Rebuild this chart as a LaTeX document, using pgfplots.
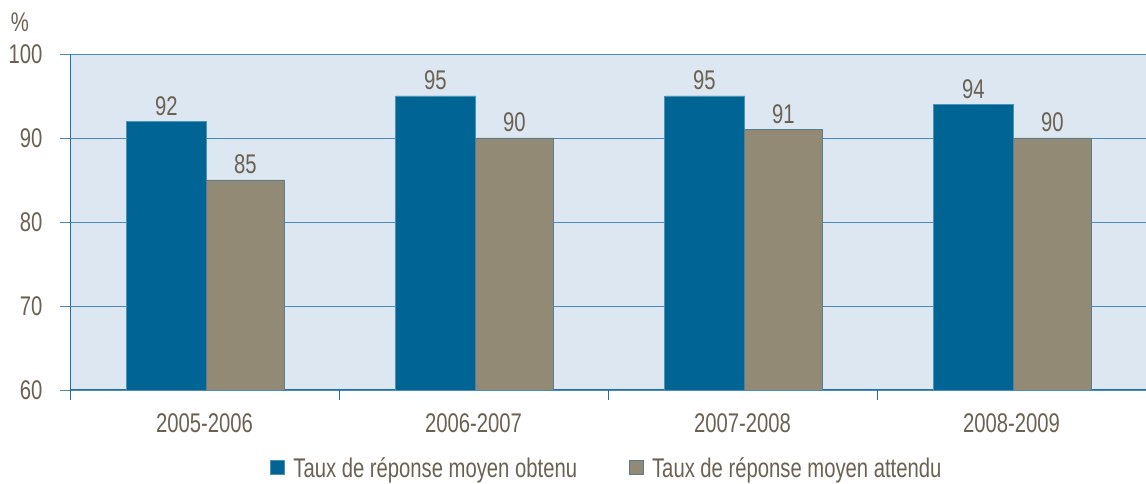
\documentclass[border=0pt]{standalone}
\usepackage{fontspec}
\setmainfont{Liberation Sans}[FakeStretch=0.75]
\usepackage{pgfplots}
\pgfplotsset{compat=1.18}

\definecolor{barblue}{HTML}{006494}
\definecolor{bargray}{HTML}{938A76}
\definecolor{bgblue}{HTML}{DCE7F1}
\definecolor{axblue}{HTML}{1F6FA8}
\definecolor{gridblue}{HTML}{4A8CC0}
\definecolor{txt}{HTML}{6B6152}
\newcommand{\lab}{\fontsize{27}{31}\selectfont\color{txt}}

\begin{document}
\begin{tikzpicture}[x=1pt,y=1pt]
\begin{axis}[
  at={(70pt,94pt)}, anchor=south west,
  scale only axis,
  width=1076pt, height=336pt,
  xmin=-0.5, xmax=3.5,
  ymin=60, ymax=100,
  ybar=0pt, bar width=80pt,
  axis background/.style={fill=bgblue},
  axis x line*=bottom, axis y line*=left,
  axis line style={draw=axblue, line width=1pt, -},
  ytick={60,70,80,90,100},
  ymajorgrids,
  major grid style={draw=gridblue, line width=0.9pt},
  ytick style={draw=gridblue, line width=0.9pt},
  tick align=outside,
  major tick length=10pt,
  yticklabel style={font=\lab, xshift=-14pt},
  /pgf/number format/assume math mode=true,
  xtick={0,1,2,3},
  xticklabels={2005-2006,2006-2007,2007-2008,2008-2009},
  xticklabel style={font=\lab, yshift=-10pt},
  x tick style={draw=none},
  extra x ticks={-0.5,0.5,1.5,2.5},
  extra x tick labels={},
  extra x tick style={x tick style={draw=axblue, line width=1pt}},
  nodes near coords,
  every node near coord/.append style={font=\lab, yshift=2pt},
  legend style={at={(rel axis cs:0.499,0)}, yshift=-78pt, anchor=center,
    draw=none, fill=none, font=\lab, legend columns=2,
    /tikz/every odd column/.append style={column sep=6pt},
    /tikz/every even column/.append style={column sep=50pt}},
  legend image code/.code={\draw[#1, line width=1pt] (0pt,-7pt) rectangle (14pt,7pt);},
]
\addplot[fill=barblue, draw=barblue!70!white, line width=0.8pt, bar shift=-38pt] coordinates {(0,92) (1,95) (2,95) (3,94)};
\addplot[fill=bargray, draw=axblue!50!bargray, line width=0.8pt, bar shift=41pt, bar width=78pt] coordinates {(0,85) (1,90) (2,91) (3,90)};
\legend{Taux de réponse moyen obtenu, Taux de réponse moyen attendu}
\end{axis}
\node[font=\lab] at (20pt,462pt) {\%};
\pgfresetboundingbox
\useasboundingbox (0,0) rectangle (1146pt,484pt);
\end{tikzpicture}
\end{document}
